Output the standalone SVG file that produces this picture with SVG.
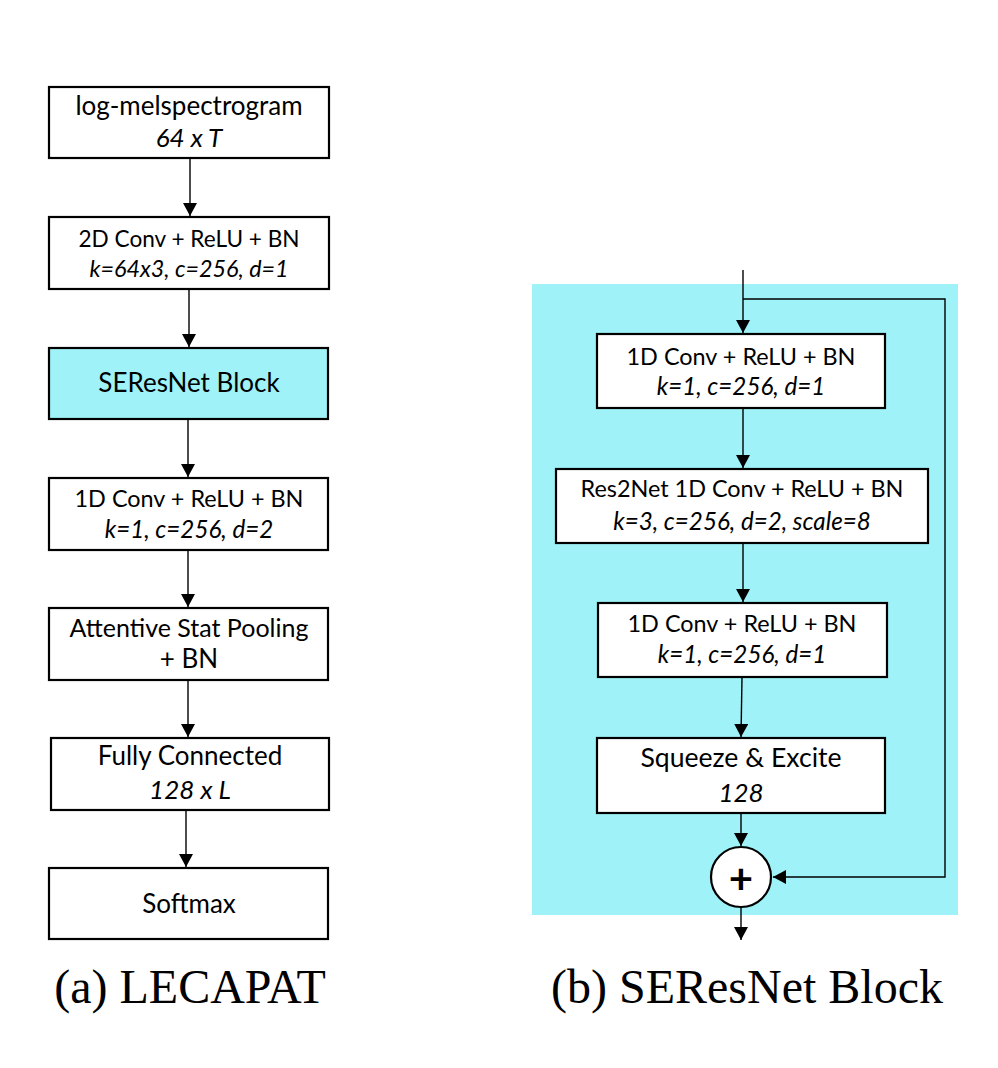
<svg xmlns="http://www.w3.org/2000/svg" width="998" height="1068" viewBox="0 0 998 1068">
<defs>
<marker id="ah" markerUnits="userSpaceOnUse" markerWidth="14" markerHeight="14" viewBox="0 0 14 14" refX="13" refY="7" orient="auto">
<path d="M0,0 L13,7 L0,14 Z" fill="#000"/>
</marker>
</defs>
<style>
.box{fill:#fff;stroke:#000;stroke-width:2.2}
.cy{fill:#9ef2f8}
.t{font-family:Lato,"Liberation Sans",sans-serif;font-size:26px;text-anchor:middle;fill:#000}
.m{font-size:23.4px}
.mi{font-size:24.2px;font-style:italic}
.i{font-style:italic}
.c{stroke:#000;stroke-width:1.4;fill:none}
.cap{font-family:"Liberation Serif",serif;font-size:48px;text-anchor:middle;fill:#000}
</style>
<rect width="998" height="1068" fill="#fff"/>
<rect id="seresnet-bg" class="cy" x="532" y="284" width="426" height="631"/>
<g id="connectors">
<line class="c" x1="190" y1="159" x2="190" y2="216" marker-end="url(#ah)"/>
<line class="c" x1="189" y1="289" x2="189" y2="347" marker-end="url(#ah)"/>
<line class="c" x1="188" y1="420" x2="188" y2="477" marker-end="url(#ah)"/>
<line class="c" x1="188" y1="550" x2="188" y2="607" marker-end="url(#ah)"/>
<line class="c" x1="188" y1="680" x2="188" y2="737" marker-end="url(#ah)"/>
<line class="c" x1="186" y1="810" x2="186" y2="867" marker-end="url(#ah)"/>
<line class="c" x1="743" y1="270" x2="743" y2="333" marker-end="url(#ah)"/>
<polyline class="c" points="743,299 945,299 945,877 773,877" marker-end="url(#ah)"/>
<line class="c" x1="743" y1="408" x2="743" y2="468" marker-end="url(#ah)"/>
<line class="c" x1="743" y1="543" x2="743" y2="602" marker-end="url(#ah)"/>
<line class="c" x1="742" y1="677" x2="741" y2="737" marker-end="url(#ah)"/>
<line class="c" x1="741" y1="813" x2="741" y2="846" marker-end="url(#ah)"/>
<line class="c" x1="741" y1="907" x2="741" y2="940" marker-end="url(#ah)"/>
</g>
<g id="n-logmel">
<rect class="box" x="49" y="87" width="280" height="71"/>
<text class="t" x="189" y="115">log-melspectrogram</text>
<text class="t i" x="189" y="147">64 x T</text>
</g>
<g id="n-conv2d">
<rect class="box" x="49" y="217" width="280" height="72"/>
<text class="t" x="189" y="247" style="font-size:22.6px">2D Conv + ReLU + BN</text>
<text class="t mi" x="189" y="277" style="font-size:23.3px">k=64x3, c=256, d=1</text>
</g>
<g id="n-seresnet">
<rect class="box" x="49" y="348" width="279" height="71" style="fill:#9ef2f8"/>
<text class="t" x="189" y="392">SEResNet Block</text>
</g>
<g id="n-conv1d">
<rect class="box" x="49" y="478" width="279" height="72"/>
<text class="t m" x="189" y="507">1D Conv + ReLU + BN</text>
<text class="t mi" x="189" y="538">k=1, c=256, d=2</text>
</g>
<g id="n-asp">
<rect class="box" x="49" y="608" width="279" height="72"/>
<text class="t" x="189" y="637" style="font-size:25px">Attentive Stat Pooling</text>
<text class="t" x="189" y="668">+ BN</text>
</g>
<g id="n-fc">
<rect class="box" x="51" y="738" width="278" height="72"/>
<text class="t" x="190" y="765">Fully Connected</text>
<text class="t i" x="190" y="799">128 x L</text>
</g>
<g id="n-softmax">
<rect class="box" x="49" y="868" width="279" height="71"/>
<text class="t" x="189" y="913">Softmax</text>
</g>
<g id="r-conv1">
<rect class="box" x="597" y="334" width="288" height="74"/>
<text class="t m" x="741" y="365">1D Conv + ReLU + BN</text>
<text class="t mi" x="741" y="395">k=1, c=256, d=1</text>
</g>
<g id="r-res2net">
<rect class="box" x="556" y="469" width="372" height="74"/>
<text class="t m" x="742" y="497">Res2Net 1D Conv + ReLU + BN</text>
<text class="t mi" x="742" y="530">k=3, c=256, d=2, scale=8</text>
</g>
<g id="r-conv2">
<rect class="box" x="598" y="603" width="289" height="74"/>
<text class="t m" x="742" y="632">1D Conv + ReLU + BN</text>
<text class="t mi" x="742" y="663">k=1, c=256, d=1</text>
</g>
<g id="r-se">
<rect class="box" x="597" y="738" width="288" height="75"/>
<text class="t" x="741" y="767" style="font-size:26.6px">Squeeze &amp; Excite</text>
<text class="t i" x="741" y="802">128</text>
</g>
<g id="r-add">
<circle cx="741" cy="877" r="30" fill="#fff" stroke="#000" stroke-width="2.2"/>
<text x="741" y="894" style="font-family:Lato,'Liberation Sans',sans-serif;font-size:42px;font-weight:bold;text-anchor:middle">+</text>
</g>
<text class="cap" x="190" y="1003">(a) LECAPAT</text>
<text class="cap" x="747" y="1003">(b) SEResNet Block</text>
</svg>
